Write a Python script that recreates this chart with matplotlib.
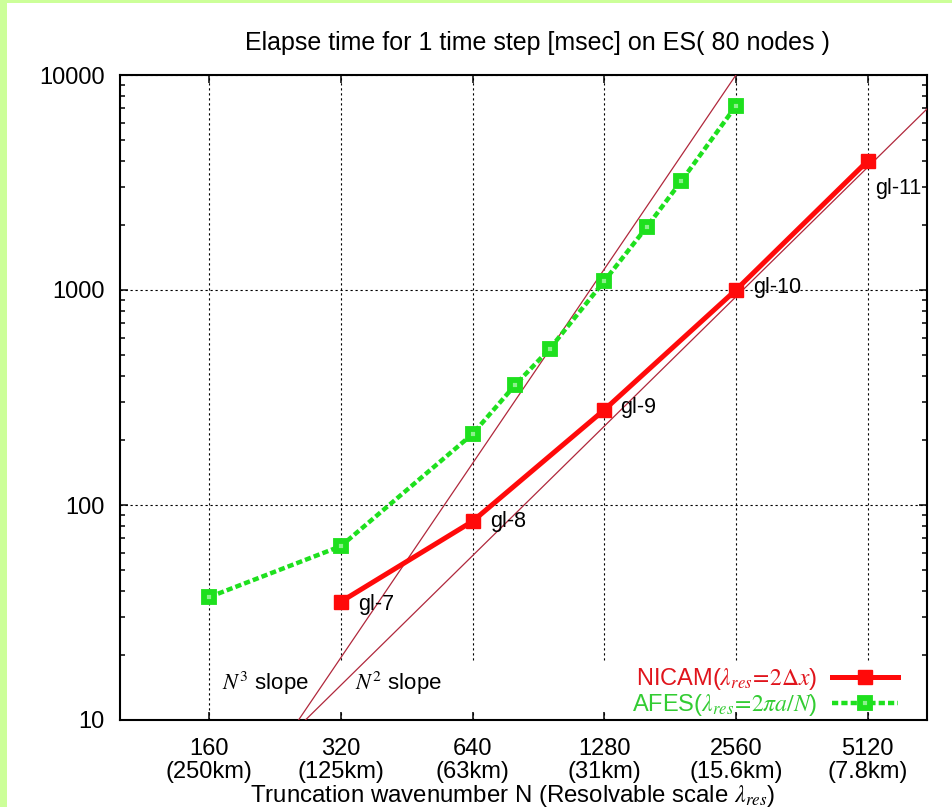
import matplotlib
matplotlib.use("Agg")
import matplotlib.pyplot as plt
import numpy as np
from matplotlib.patches import Rectangle
from matplotlib.lines import Line2D
from matplotlib.ticker import FixedLocator, LogLocator, NullFormatter, NullLocator

plt.rcParams['font.family'] = ['Liberation Sans', 'DejaVu Sans']
plt.rcParams['mathtext.fontset'] = 'stix'

# x axis: truncation wavenumber and the matching resolvable scale
tick_n = [160, 320, 640, 1280, 2560, 5120]
tick_scale = ['250km', '125km', '63km', '31km', '15.6km', '7.8km']
y_ticks = [10, 100, 1000, 10000]

# NICAM, grid levels gl-7 ... gl-11
nicam_n = [320, 640, 1280, 2560, 5120]
nicam_ms = [35.5, 84, 277, 1000, 3980]
nicam_lbl = ['gl-7', 'gl-8', 'gl-9', 'gl-10', 'gl-11']

# AFES spectral model
afes_n = [160, 320, 640, 800, 960, 1280, 1600, 1920, 2560]
afes_ms = [37.3, 64.4, 214, 361, 532, 1100, 1960, 3210, 7180]

# guide lines of slope N^3 and N^2, anchored at N = 2560
slope_anchor_n = 2560
slope3_anchor_ms = 10000
slope2_anchor_ms = 930

RED = '#ff0a0a'
GREEN = '#1ee01e'
GUIDE = '#b0283c'

W, H = 952, 807
fig = plt.figure(figsize=(W / 100, H / 100), dpi=100)
fig.patch.set_facecolor('white')
# light green page strips
fig.patches.append(Rectangle((0, 0), 7 / W, 1, transform=fig.transFigure,
                             facecolor='#ccff99', edgecolor='none', zorder=-5))
fig.patches.append(Rectangle((0, 1 - 3 / H), 1, 3 / H, transform=fig.transFigure,
                             facecolor='#ccff99', edgecolor='none', zorder=-5))

ax = fig.add_axes([120 / W, (H - 720) / H, 807 / W, 645 / H])
ax.set_xscale('log')
ax.set_yscale('log')
ax.set_xlim(100, 7000)
ax.set_ylim(10, 10000)

# grid
ax.set_axisbelow(True)
ax.grid(True, which='major', color='black', linestyle=(0, (2, 2.5)), linewidth=0.8)

# key area masks the grid
ax.add_patch(Rectangle((0.255, 0.014), 0.745, 0.074, transform=ax.transAxes,
                       facecolor='white', edgecolor='none', zorder=1))

# slope guides
nn = np.geomspace(100, 7000, 200)
ax.plot(nn, slope3_anchor_ms * (nn / slope_anchor_n) ** 3, color=GUIDE, lw=0.9, zorder=3)
ax.plot(nn, slope2_anchor_ms * (nn / slope_anchor_n) ** 2, color=GUIDE, lw=0.9, zorder=3)

# data
afes_style = dict(color=GREEN, lw=3.2, linestyle=(0, (1.4, 0.7)), marker='s',
                  markersize=7.3, markerfacecolor='#8cf08c', markeredgecolor=GREEN,
                  markeredgewidth=4.2)
nicam_style = dict(color=RED, lw=3.6, marker='s', markersize=10.5,
                   markerfacecolor=RED, markeredgecolor=RED)
ax.plot(afes_n, afes_ms, zorder=4, **afes_style)
ax.plot(nicam_n, nicam_ms, zorder=5, solid_capstyle='butt', **nicam_style)

label_offsets = [(17, -3), (18, 0), (16, 2), (17, 3), (8, -27)]
for n, v, s, off in zip(nicam_n, nicam_ms, nicam_lbl, label_offsets):
    ax.annotate(s, (n, v), xytext=off, textcoords='offset pixels',
                ha='left', va='center', fontsize=15.5, color='black', zorder=6)

# slope captions
ax.text(0.126, 0.057, r'$N^3$ slope', transform=ax.transAxes, fontsize=16,
        ha='left', va='center', zorder=6)
ax.text(0.291, 0.057, r'$N^2$ slope', transform=ax.transAxes, fontsize=16,
        ha='left', va='center', zorder=6)

# axes ticks
ax.xaxis.set_major_locator(FixedLocator(tick_n))
ax.xaxis.set_minor_locator(NullLocator())
ax.set_xticklabels([f'{n}\n({s})' for n, s in zip(tick_n, tick_scale)])
for lbl in ax.get_xticklabels():
    lbl.set_linespacing(1.08)
ax.yaxis.set_major_locator(FixedLocator(y_ticks))
ax.set_yticklabels([str(v) for v in y_ticks])
ax.yaxis.set_minor_locator(LogLocator(base=10, subs=np.arange(2, 10)))
ax.yaxis.set_minor_formatter(NullFormatter())

ax.tick_params(axis='both', which='both', direction='in', top=True, right=True,
               width=1.1, labelsize=17)
ax.tick_params(axis='both', which='major', length=6)
ax.tick_params(axis='both', which='minor', length=3.5)
ax.tick_params(axis='x', pad=13)
ax.tick_params(axis='y', pad=11)
for sp in ax.spines.values():
    sp.set_linewidth(1.5)

ax.set_xlabel(r'Truncation wavenumber N (Resolvable scale $\lambda_{res}$)',
              fontsize=17.3)
ax.xaxis.set_label_coords(0.487, -0.097)

fig.text(537 / W, 1 - 43 / H, 'Elapse time for 1 time step [msec] on ES( 80 nodes )',
         ha='center', va='center', fontsize=18)

# key
h_nicam = Line2D([], [], **nicam_style)
h_afes = Line2D([], [], **afes_style)
leg = ax.legend([h_nicam, h_afes],
                [r'NICAM($\lambda_{res}\!=\!2\mathit{\Delta} x$)',
                 r'AFES($\lambda_{res}\!=\!2\pi a/N$)'],
                loc='lower right', bbox_to_anchor=(0.964, 0.003),
                markerfirst=False, frameon=False, fontsize=17, numpoints=1,
                handlelength=2.8, handletextpad=0.6, borderpad=0,
                borderaxespad=0, labelspacing=0.0)
leg.set_zorder(7)
for t, c in zip(leg.get_texts(), ['#e0141c', '#33cc33']):
    t.set_color(c)

fig.savefig('out.png', dpi=100)
